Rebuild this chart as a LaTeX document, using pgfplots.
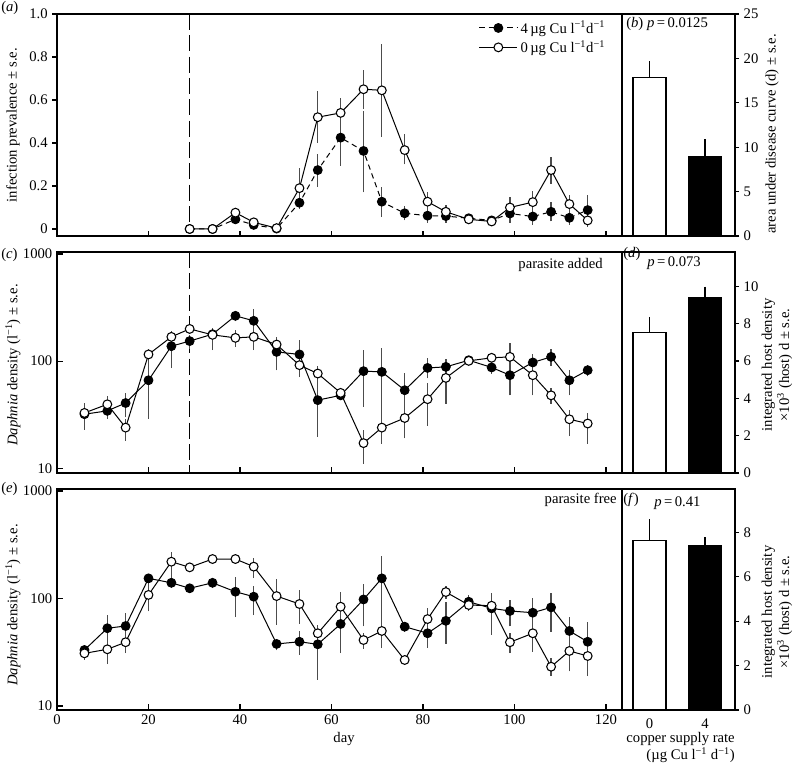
\documentclass[border=0pt]{standalone}
\usepackage{fontspec}
\setmainfont{Liberation Serif}
\usepackage{pgfplots}
\pgfplotsset{compat=1.18}
\newcommand\lf{\fontsize{11}{13}\selectfont}
\newcommand\tf{\fontsize{11}{12}\selectfont}
\newcommand\um{\textsuperscript{−1}}
\pgfplotsset{
  myBase/.style={scale only axis, clip=false, axis line style={line width=0.9pt},
    every tick/.style={black, line width=0.8pt},
    /pgf/number format/assume math mode=true,
    ticklabel style={font=\tf}},
  myLeft/.style={myBase, width=423.75pt, xmin=0, xmax=123.5, xtick={0,20,...,120},
    tick align=inside, xtick pos=bottom, ytick pos=left, major tick length=4.5pt},
  myLog/.style={myLeft, height=165.75pt, ymin=9.05, ymax=1044,
    ytick={10,100,1000}, yticklabels={10,100,1000}, yminorticks=false},
  myBar/.style={myBase, width=84.75pt, xmin=-0.495, xmax=1.54, ymin=0, xtick=\empty,
    ytick pos=right, yticklabel pos=right, tick align=outside, major tick length=3pt},
  opn/.style={black, line width=0.75pt, mark=*, mark size=3.3pt,
    mark options={fill=white, draw=black, line width=0.8pt, solid}},
  fil/.style={black, line width=0.75pt, mark=*, mark size=3.3pt,
    mark options={fill=black, draw=black, solid}},
  err/.style={black!70, line width=1pt, unbounded coords=jump, forget plot},
  wbar/.style={ybar, bar width=24.75pt, fill=white, draw=black, line width=0.8pt,
    error bars/y dir=plus, error bars/y explicit, error bars/error mark=none,
    error bars/error bar style={line width=1pt, black}},
  kbar/.style={wbar, fill=black},
}
\begin{document}
\begin{tikzpicture}
\useasboundingbox (0,0) rectangle (596.25pt,573.75pt);

% ---------------- (a) ----------------
\begin{axis}[myLeft, at={(42.75pt,396.75pt)}, anchor=south west, height=166.5pt,
  ytick align=outside, major tick length=3.5pt,
  ymin=-0.0326, ymax=1.0, ytick={0,0.2,0.4,0.6,0.8,1}, yticklabels={0,0.2,0.4,0.6,0.8,1.0},
  xticklabels={},
  legend style={draw=none, fill=none, at={(0.745,0.985)}, anchor=north west,
    font=\lf, row sep=0pt, inner sep=0.5pt},
  legend cell align=left,
  legend image code/.code={\draw[mark repeat=2,mark phase=2,#1] plot coordinates {(0pt,0pt) (14.25pt,0pt) (28.5pt,0pt)};}]
\addplot[black, line width=0.9pt, dash pattern=on 12pt off 4pt, forget plot] coordinates {(29,1.0) (29,0)};
\addplot[err] coordinates {
(39,0.056)(39,0.096)(39,nan) (43,0.016)(43,0.046)(43,nan) (53,0.095)(53,0.285)(53,nan)
(57,0.40)(57,0.64)(57,nan) (62,0.47)(62,0.61)(62,nan) (67,0.56)(67,0.74)(67,nan)
(71,0.43)(71,0.86)(71,nan) (76,0.30)(76,0.44)(76,nan) (81,0.09)(81,0.17)(81,nan)
(85,0.05)(85,0.11)(85,nan) (90,0.025)(90,0.065)(90,nan) (95,0.015)(95,0.055)(95,nan)
(99,0.05)(99,0.15)(99,nan) (104,0.075)(104,0.175)(104,nan) (108,0.21)(108,0.335)(108,nan)
(112,0.076)(112,0.156)(112,nan) (116,0.01)(116,0.07)(116,nan)
(39,0.03)(39,0.06)(39,nan) (53,0.092)(53,0.152)(53,nan) (57,0.197)(57,0.347)(57,nan)
(62,0.295)(62,0.555)(62,nan) (67,0.17)(67,0.55)(67,nan) (71,0.057)(71,0.197)(71,nan)
(76,0.04)(76,0.105)(76,nan) (81,0.03)(81,0.095)(81,nan) (85,0.03)(85,0.09)(85,nan)
(95,0.02)(95,0.06)(95,nan) (99,0.03)(99,0.11)(99,nan) (104,0.02)(104,0.10)(104,nan)
(108,0.035)(108,0.125)(108,nan) (112,0.02)(112,0.085)(112,nan) (116,0.01)(116,0.158)(116,nan)
};
\addplot[fil, dash pattern=on 4pt off 3pt] table {
x y
29 0
34 0
39 0.045
43 0.019
48 0.002
53 0.122
57 0.274
62 0.425
67 0.363
71 0.127
76 0.073
81 0.062
85 0.06
90 0.05
95 0.04
99 0.072
104 0.058
108 0.08
112 0.052
116 0.088
};
\addlegendentry{4\,µg Cu l\um d\um}
\addplot[opn] table {
x y
29 0
34 0
39 0.076
43 0.031
48 0.004
53 0.19
57 0.52
62 0.54
67 0.65
71 0.645
76 0.367
81 0.127
85 0.08
90 0.045
95 0.035
99 0.10
104 0.125
108 0.274
112 0.116
116 0.04
};
\addlegendentry{0\,µg Cu l\um d\um}
\end{axis}

% ---------------- (b) ----------------
\begin{axis}[myBar, at={(466.5pt,396.75pt)}, anchor=south west, height=166.5pt,
  ymax=25, ytick={0,5,...,25}]
\addplot[wbar] coordinates {(0,17.8) +- (0,1.9)};
\addplot[kbar] coordinates {(1,8.9) +- (0,2.0)};
\end{axis}

% ---------------- (c) ----------------
\begin{semilogyaxis}[myLog, at={(42.75pt,219pt)}, anchor=south west, xticklabels={}]
\addplot[black, line width=0.9pt, dash pattern=on 12pt off 4pt, forget plot] coordinates {(29,1044) (29,9.05)};
\addplot[err] coordinates {
(6,25)(6,41)(6,nan) (11,33)(11,47)(11,nan) (15,18)(15,29)(15,nan) (20,100)(20,130)(20,nan)
(25,150)(25,190)(25,nan) (29,180)(29,220)(29,nan) (34,150)(34,200)(34,nan) (39,135)(39,195)(39,nan)
(43,127)(43,210)(43,nan) (48,124)(48,167)(48,nan) (53,75)(53,110)(53,nan) (57,62)(57,90)(57,nan)
(62,45)(62,56)(62,nan) (67,11)(67,22.6)(67,nan) (71,17)(71,31)(71,nan) (76,21)(76,38)(76,nan)
(81,25)(81,62)(81,nan) (85,40)(85,94)(85,nan) (90,90)(90,112)(90,nan) (95,100)(95,116)(95,nan)
(99,73)(99,147)(99,nan) (104,48)(104,100)(104,nan) (108,40)(108,56)(108,nan) (112,20)(112,35)(112,nan)
(116,17)(116,33)(116,nan)
(6,23)(6,41)(6,nan) (11,29)(11,40)(11,nan) (15,30)(15,50)(15,nan) (20,29)(20,114)(20,nan)
(25,86)(25,165)(25,nan) (29,130)(29,175)(29,nan) (34,127)(34,204)(34,nan) (39,235)(39,290)(39,nan)
(43,200)(43,304)(43,nan) (48,82)(48,160)(48,nan) (53,71)(53,157)(53,nan) (57,19.7)(57,69)(57,nan)
(62,43)(62,53)(62,nan) (67,37.5)(67,127)(67,nan) (71,17)(71,132)(71,nan) (76,19)(76,78)(76,nan)
(81,69)(81,106)(81,nan) (85,70)(85,105)(85,nan) (90,92)(90,112)(90,nan) (95,76)(95,100)(95,nan)
(99,48)(99,101)(99,nan) (104,77)(104,117)(104,nan) (108,90)(108,130)(108,nan) (112,48)(112,82)(112,nan)
(116,72)(116,92)(116,nan)
};
\addplot[fil] table {
x y
6 32
11 34.4
15 40.7
20 66.4
25 138
29 154
34 178.6
39 265
43 238
48 122
53 115.6
57 43.3
62 48
67 80.7
71 79.5
76 53.6
81 86.5
85 88.5
90 102
95 87.4
99 74
104 97.3
108 109.7
112 66.4
116 82.4
};
\addplot[opn] table {
x y
6 32.9
11 39.6
15 24
20 115.6
25 168.6
29 200
34 176
39 165
43 168.6
48 143
53 91.8
57 76.7
62 50.6
67 17.2
71 24
76 29.5
81 44.2
85 69.8
90 100.7
95 107.5
99 109.7
104 74
108 48
112 28.7
116 26.2
};
\end{semilogyaxis}

% ---------------- (d) ----------------
\begin{axis}[myBar, at={(466.5pt,219pt)}, anchor=south west, height=165.75pt,
  ymax=11.84, ytick={0,2,...,10}]
\addplot[wbar] coordinates {(0,7.55) +- (0,0.82)};
\addplot[kbar] coordinates {(1,9.39) +- (0,0.6)};
\end{axis}

% ---------------- (e) ----------------
\begin{semilogyaxis}[myLog, at={(42.75pt,41.25pt)}, anchor=south west, ymin=9.18, ymax=1044]
\addplot[err] coordinates {
(6,27)(6,35)(6,nan) (11,24.5)(11,43)(11,nan) (15,31)(15,47)(15,nan) (20,76)(20,149)(20,nan)
(25,160)(25,273)(25,nan) (29,175)(29,215)(29,nan) (34,220)(34,248)(34,nan) (39,222)(39,245)(39,nan)
(43,155)(43,240)(43,nan) (48,57)(48,151)(48,nan) (53,58)(53,120)(53,nan) (57,38)(57,57)(57,nan)
(62,60)(62,115)(62,nan) (67,34)(67,48)(67,nan) (71,35)(71,64)(71,nan) (76,24)(76,30)(76,nan)
(81,35)(81,82)(81,nan) (85,100)(85,130)(85,nan) (90,77)(90,97)(90,nan) (95,46)(95,113)(95,nan)
(99,31)(99,48)(99,nan) (104,38)(104,57)(104,nan) (108,19)(108,28)(108,nan) (112,22)(112,42)(112,nan)
(116,19)(116,38)(116,nan)
(6,29)(6,37)(6,nan) (11,31)(11,70)(11,nan) (15,44)(15,74)(15,nan) (20,135)(20,170)(20,nan)
(25,125)(25,160)(25,nan) (29,115)(29,135)(29,nan) (34,125)(34,155)(34,nan) (39,67)(39,160)(39,nan)
(43,70)(43,131)(43,nan) (48,33)(48,42)(48,nan) (53,30)(53,50)(53,nan) (57,17.6)(57,57)(57,nan)
(62,31)(62,85)(62,nan) (67,55)(67,137)(67,nan) (71,34.5)(71,248)(71,nan) (76,49)(76,60)(76,nan)
(81,37)(81,58)(81,nan) (85,38)(85,93)(85,nan) (90,80)(90,107)(90,nan) (95,70)(95,92)(95,nan)
(99,55)(99,97)(99,nan) (104,32)(104,101)(104,nan) (108,49)(108,113)(108,nan) (112,21)(112,67)(112,nan)
(116,22)(116,60)(116,nan)
};
\addplot[fil] table {
x y
6 33.2
11 52.9
15 55.5
20 154
25 140
29 124.5
34 140
39 115.6
43 104
48 37.8
53 39.6
57 37.5
62 58
67 98
71 154
76 54.7
81 47.5
85 62
90 93.3
95 81
99 76.6
104 73.8
108 82.7
112 49.9
116 39.6
};
\addplot[opn] table {
x y
6 30.9
11 33.7
15 39.2
20 108
25 220
29 195
34 233
39 233
43 198
48 105.4
53 88.9
57 47.5
62 83.9
67 41.1
71 49.9
76 26.8
81 64.4
85 114.8
90 87
95 85.7
99 39.2
104 47.5
108 23.2
112 32.5
116 29.2
};
\end{semilogyaxis}

% ---------------- (f) ----------------
\begin{axis}[myBar, at={(466.5pt,41.25pt)}, anchor=south west, height=165.75pt,
  ymax=9.95, ytick={0,2,...,8}, xtick={0,1}, xticklabels={0,4}, xtick style={draw=none}]
\addplot[wbar] coordinates {(0,7.64) +- (0,0.95)};
\addplot[kbar] coordinates {(1,7.40) +- (0,0.38)};
\end{axis}

% ---------------- text ----------------
\begin{scope}[every node/.style={inner sep=0pt, font=\lf}]
\node[rotate=90] at (9.75pt,480pt) {infection prevalence ± s.e.};
\node[rotate=90] at (9.75pt,300pt) {\textit{Daphnia} density (l\um) ± s.e.};
\node[rotate=90] at (9.75pt,120pt) {\textit{Daphnia} density (l\um) ± s.e.};
\node[rotate=90] at (579pt,473.25pt) {area under disease curve (d) ± s.e.};
\node[rotate=90, align=center] at (582.75pt,300pt) {integrated host density\\×10\textsuperscript{3} (host) d ± s.e.};
\node[rotate=90, align=center] at (582.75pt,114.75pt) {integrated host density\\×10\textsuperscript{3} (host) d ± s.e.};
\node at (258pt,19.5pt) {day};
\node[anchor=east] at (551.25pt,19.5pt) {copper supply rate};
\node[anchor=east] at (551.25pt,7.5pt) {(µg Cu l\um\ d\um)};
\node[anchor=west] at (0.75pt,567.75pt) {(\textit{a})};
\node[anchor=west] at (0.75pt,382.5pt) {(\textit{c})};
\node[anchor=west] at (0.75pt,207pt) {(\textit{e})};
\node[anchor=west] at (469.5pt,555.75pt) {(\textit{b}) \textit{p}\,=\,0.0125};
\node[anchor=west] at (467.25pt,383.25pt) {(\textit{d})};
\node[anchor=west] at (485.25pt,376.5pt) {\textit{p}\,=\,0.073};
\node[anchor=west] at (467.25pt,198.75pt) {(\textit{f})};
\node[anchor=west] at (490.5pt,196.5pt) {\textit{p}\,=\,0.41};
\node[anchor=east] at (452.25pt,375pt) {parasite added};
\node[anchor=east] at (462.75pt,198.75pt) {parasite free};
\end{scope}
\end{tikzpicture}
\end{document}
